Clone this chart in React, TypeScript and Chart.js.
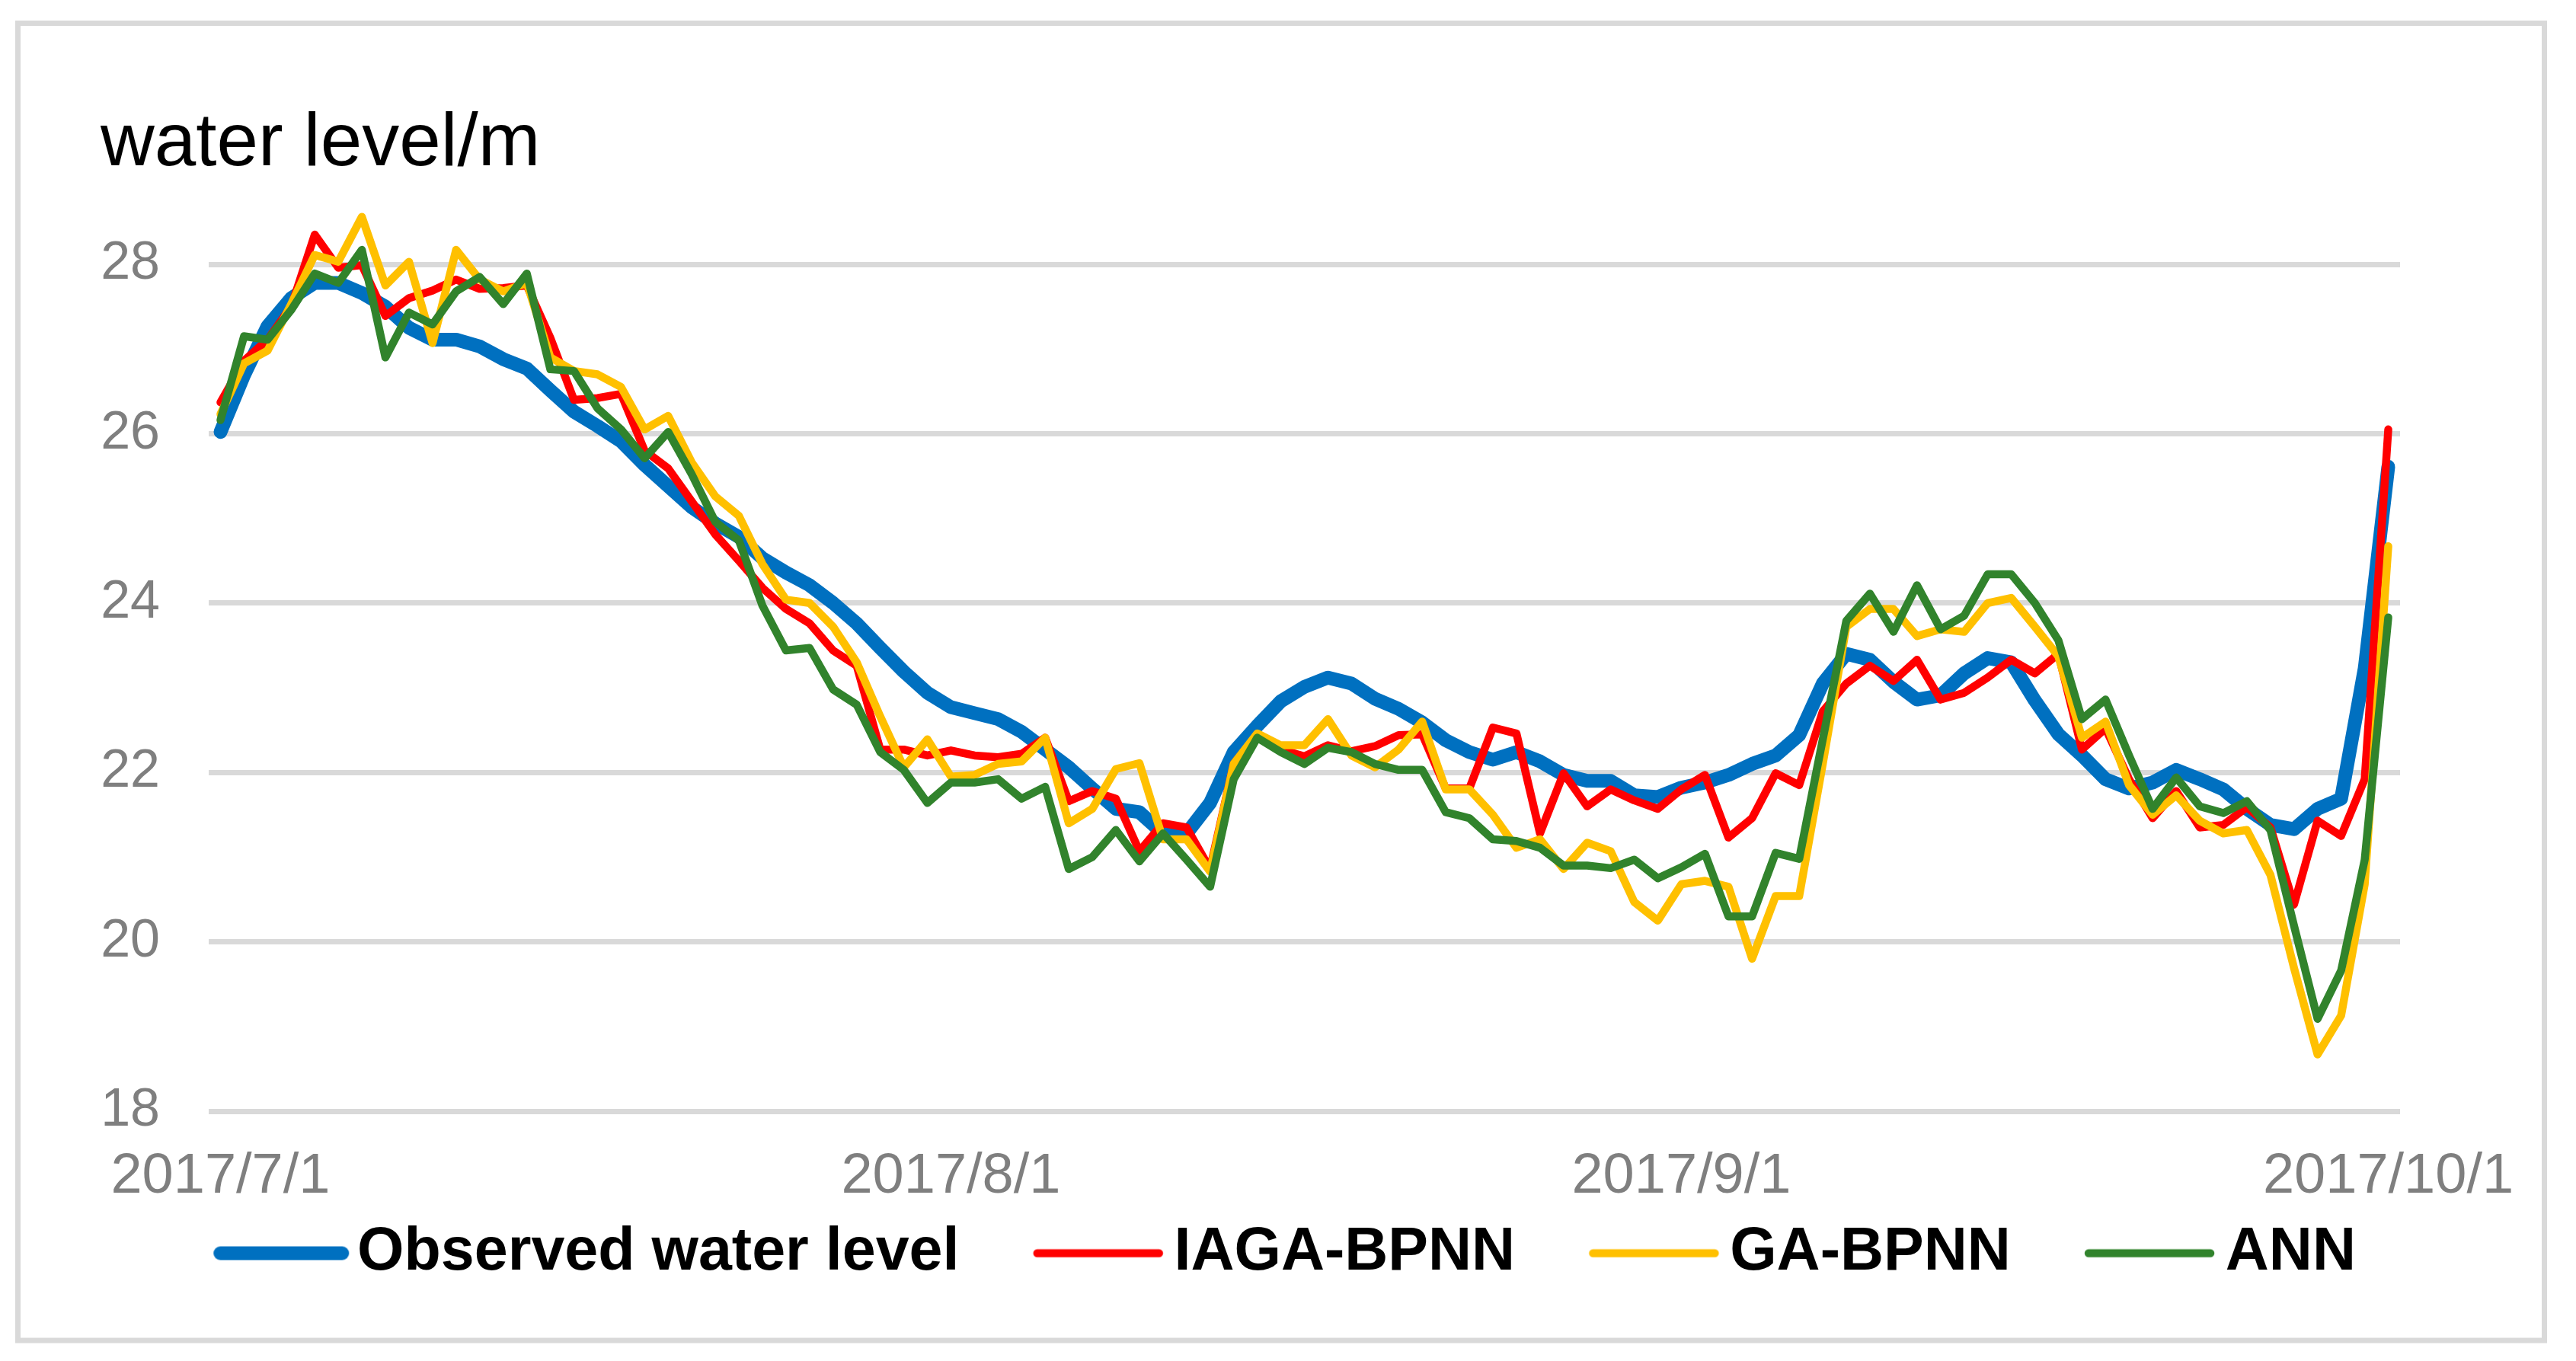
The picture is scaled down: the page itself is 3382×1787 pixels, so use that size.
import React, { useEffect, useRef } from "react";
import { Chart, registerables } from "chart.js";

Chart.register(...registerables);

const FONT = '"Liberation Sans", Arial, sans-serif';

// x categories: daily dates from 2017/7/1 to 2017/10/1
const startDate = Date.UTC(2017, 6, 1);
const dayCount = 93;
const categories: string[] = [];
for (let i = 0; i < dayCount; i++) {
  const d = new Date(startDate + i * 86400000);
  categories.push(`${d.getUTCFullYear()}/${d.getUTCMonth() + 1}/${d.getUTCDate()}`);
}
const tickLabels = ["2017/7/1", "2017/8/1", "2017/9/1", "2017/10/1"];

const yMin = 18;
const yMax = 28;
const yStep = 2;
const axisTitle = "water level/m";

const seriesNames = ["Observed water level", "IAGA-BPNN", "GA-BPNN", "ANN"];

const observed = [
  26.02, 26.69, 27.27, 27.6, 27.78, 27.78, 27.66, 27.5, 27.25, 27.11,
  27.11, 27.03, 26.88, 26.77, 26.51, 26.26, 26.09, 25.91, 25.63, 25.38,
  25.13, 24.94, 24.78, 24.53, 24.36, 24.21, 24.0, 23.76, 23.47, 23.19,
  22.94, 22.77, 22.7, 22.63, 22.48, 22.27, 22.06, 21.81, 21.57, 21.53,
  21.28, 21.28, 21.64, 22.24, 22.55, 22.84, 23.01, 23.12, 23.05, 22.87,
  22.75, 22.59, 22.38, 22.24, 22.15, 22.24, 22.13, 21.97, 21.9, 21.9,
  21.73, 21.71, 21.82, 21.88, 21.97, 22.1, 22.2, 22.44, 23.05, 23.4,
  23.33, 23.07, 22.86, 22.91, 23.17, 23.35, 23.3, 22.85, 22.45, 22.2,
  21.92, 21.81, 21.88, 22.03, 21.92, 21.8, 21.57, 21.38, 21.33, 21.57,
  21.69, 23.23, 25.61,
];

const iagaBpnn = [
  26.37, 26.86, 27.11, 27.5, 28.35, 27.96, 27.99, 27.39, 27.6, 27.69,
  27.82, 27.71, 27.72, 27.75, 27.13, 26.4, 26.42, 26.47, 25.8, 25.59,
  25.2, 24.81, 24.5, 24.18, 23.93, 23.76, 23.44, 23.26, 22.27, 22.27,
  22.2, 22.26, 22.2, 22.18, 22.22, 22.41, 21.66, 21.78, 21.69, 21.07,
  21.4, 21.35, 20.86, 22.1, 22.45, 22.27, 22.19, 22.32, 22.25, 22.31,
  22.44, 22.45, 21.81, 21.81, 22.53, 22.46, 21.28, 21.99, 21.6, 21.8,
  21.67, 21.57, 21.8, 21.97, 21.23, 21.46, 21.99, 21.85, 22.72, 23.05,
  23.26, 23.08, 23.33, 22.86, 22.94, 23.12, 23.33, 23.17, 23.4, 22.27,
  22.52, 21.92, 21.46, 21.78, 21.35, 21.38, 21.59, 21.35, 20.44, 21.43,
  21.25, 21.92, 26.05,
];

const gaBpnn = [
  26.23, 26.83, 26.98, 27.53, 28.11, 28.03, 28.56, 27.75, 28.03, 27.07,
  28.17, 27.82, 27.68, 27.78, 26.9, 26.74, 26.7, 26.55, 26.05, 26.21,
  25.66, 25.26, 25.03, 24.46, 24.04, 24.0, 23.72, 23.3, 22.66, 22.06,
  22.39, 21.95, 21.97, 22.1, 22.13, 22.41, 21.4, 21.57, 22.04, 22.11,
  21.21, 21.21, 20.83, 22.1, 22.46, 22.32, 22.32, 22.63, 22.2, 22.06,
  22.27, 22.6, 21.8, 21.8, 21.5, 21.11, 21.21, 20.86, 21.17, 21.07,
  20.47, 20.25, 20.68, 20.72, 20.65, 19.8, 20.54, 20.54, 22.1, 23.72,
  23.93, 23.93, 23.61, 23.69, 23.66, 24.0, 24.06, 23.72, 23.37, 22.41,
  22.6, 21.85, 21.5, 21.73, 21.43, 21.28, 21.32, 20.79, 19.69, 18.67,
  19.13, 20.68, 24.67,
];

const ann = [
  26.16, 27.15, 27.11, 27.46, 27.89, 27.78, 28.17, 26.9, 27.43, 27.29,
  27.68, 27.85, 27.53, 27.89, 26.76, 26.74, 26.3, 26.05, 25.71, 26.02,
  25.52, 24.96, 24.74, 23.97, 23.44, 23.47, 22.98, 22.8, 22.24, 22.03,
  21.64, 21.88, 21.88, 21.92, 21.69, 21.83, 20.86, 21.0, 21.32, 20.95,
  21.28, 20.97, 20.65, 21.92, 22.41, 22.24, 22.1, 22.29, 22.24, 22.1,
  22.03, 22.03, 21.53, 21.46, 21.21, 21.19, 21.11, 20.9, 20.9, 20.87,
  20.97, 20.75, 20.88, 21.04, 20.3, 20.3, 21.05, 20.98, 22.39, 23.79,
  24.11, 23.66, 24.21, 23.69, 23.85, 24.34, 24.34, 24.0, 23.56, 22.63,
  22.86, 22.2, 21.57, 21.94, 21.6, 21.52, 21.66, 21.32, 20.19, 19.09,
  19.66, 20.97, 23.83,
];

const seriesColors = ["#0070C0", "#FF0000", "#FFC000", "#31832C"];
const seriesWidths = [18, 10.5, 10.5, 10.5];
const seriesOrder = [3, 2, 1, 0];

// legend sample geometry (px)
const LEGEND_FONT = 79;
const LEGEND_PAD = 34;
const LEGEND_BOX = 208.5;
const SAMPLE_W = 268;
const SAMPLE_H = 26;
const SAMPLE_X0 = 98;
const SAMPLE_X1 = 258;

function makeSample(color: string, width: number) {
  const c = document.createElement("canvas");
  c.width = SAMPLE_W;
  c.height = SAMPLE_H;
  const g = c.getContext("2d")!;
  g.strokeStyle = color;
  g.lineWidth = width;
  g.lineCap = "round";
  g.beginPath();
  g.moveTo(SAMPLE_X0, SAMPLE_H / 2);
  g.lineTo(SAMPLE_X1, SAMPLE_H / 2);
  g.stroke();
  return c;
}

const framePlugin = {
  id: "frame",
  beforeDraw(chart: any) {
    const ctx = chart.ctx;
    ctx.save();
    ctx.fillStyle = "#ffffff";
    ctx.fillRect(0, 0, chart.width, chart.height);
    ctx.strokeStyle = "#d9d9d9";
    ctx.lineWidth = 7;
    ctx.strokeRect(23.5, 30.5, 3317, 1729.5);
    ctx.fillStyle = "#000000";
    ctx.font = `98px ${FONT}`;
    ctx.textBaseline = "alphabetic";
    ctx.textAlign = "left";
    ctx.fillText(axisTitle, 132, 217);
    ctx.restore();
  },
};

export default function App() {
  const canvasRef = useRef<HTMLCanvasElement | null>(null);

  useEffect(() => {
    if (!canvasRef.current) return;
    const seriesData = [observed, iagaBpnn, gaBpnn, ann];
    const samples = seriesColors.map((c, i) => makeSample(c, seriesWidths[i]));
    const datasets = seriesNames.map((name, i) => ({
      label: name,
      data: seriesData[i],
      borderColor: seriesColors[i],
      backgroundColor: seriesColors[i],
      borderWidth: seriesWidths[i],
      borderCapStyle: "round",
      borderJoinStyle: "round",
      pointRadius: 0,
      pointHoverRadius: 0,
      tension: 0,
      fill: false,
      clip: false,
      order: seriesOrder[i],
    }));

    const chart = new Chart(canvasRef.current, {
      type: "line",
      data: { labels: categories, datasets: datasets as any },
      options: {
        responsive: false,
        animation: false,
        devicePixelRatio: 1,
        events: [],
        layout: { padding: { top: 347, left: 0, right: 68, bottom: 92 } },
        plugins: {
          tooltip: { enabled: false },
          title: { display: false },
          legend: {
            display: true,
            position: "bottom",
            align: "center",
            labels: {
              usePointStyle: true,
              pointStyleWidth: LEGEND_BOX,
              padding: LEGEND_PAD,
              color: "#000000",
              font: { family: FONT, size: LEGEND_FONT, weight: "bold" },
              generateLabels: (c: any) =>
                c.data.datasets.map((ds: any, i: number) => ({
                  text: ds.label,
                  fillStyle: ds.borderColor,
                  strokeStyle: ds.borderColor,
                  lineWidth: ds.borderWidth,
                  pointStyle: samples[i],
                  hidden: false,
                  fontColor: "#000000",
                  datasetIndex: i,
                })),
            },
          },
        },
        scales: {
          x: {
            type: "category",
            offset: true,
            grid: { display: false },
            border: { display: false },
            ticks: {
              autoSkip: false,
              maxRotation: 0,
              minRotation: 0,
              padding: 34,
              color: "#7f7f7f",
              font: { family: FONT, size: 74, lineHeight: 1.2 },
              callback: (_v: any, i: number) =>
                tickLabels.includes(categories[i]) ? categories[i] : "",
            },
            afterFit: (s: any) => {
              s.height = 113;
            },
          },
          y: {
            min: yMin,
            max: yMax,
            ticks: {
              stepSize: yStep,
              padding: 64,
              color: "#7f7f7f",
              font: { family: FONT, size: 70 },
            },
            grid: { color: "#d9d9d9", lineWidth: 7, drawTicks: false },
            border: { display: false },
            afterFit: (s: any) => {
              s.width = 274;
            },
          },
          yRight: {
            position: "right",
            display: true,
            min: yMin,
            max: yMax,
            ticks: { display: false },
            grid: { display: false, drawOnChartArea: false },
            border: { display: false },
            afterFit: (s: any) => {
              s.width = 163;
            },
          },
        },
      } as any,
      plugins: [framePlugin],
    });
    return () => chart.destroy();
  }, []);

  return (
    <div
      style={{
        position: "fixed",
        left: 0,
        top: 0,
        width: 3382,
        height: 1787,
        background: "#ffffff",
      }}
    >
      <canvas ref={canvasRef} width={3382} height={1787} style={{ width: 3382, height: 1787, display: "block" }} />
    </div>
  );
}
